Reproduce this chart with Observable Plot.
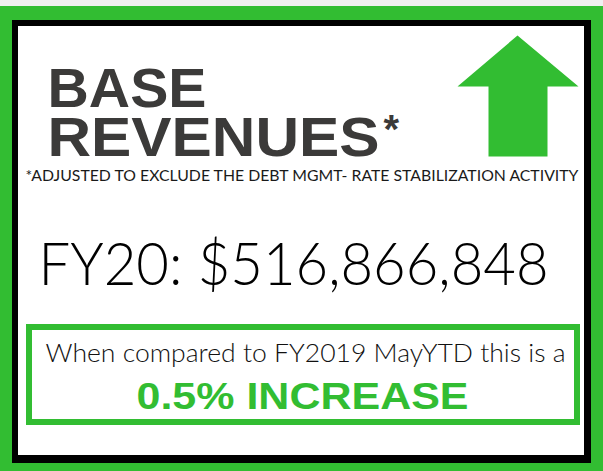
<!DOCTYPE html>
<html>
<head>
<meta charset="utf-8">
<script src="https://cdn.jsdelivr.net/npm/d3@7"></script>
<script src="https://cdn.jsdelivr.net/npm/@observablehq/plot@0.6"></script>
<style>
  html, body { margin: 0; padding: 0; background: #f0f0f0; }
  svg { display: block; }
</style>
</head>
<body>
<div id="chart"></div>
<script>
// ---- content ----
const titleLines = ["BASE", "REVENUES"];
const titleMarker = "*";
const footnote = "*ADJUSTED TO EXCLUDE THE DEBT MGMT- RATE STABILIZATION ACTIVITY";
const fiscalYear = "FY20";
const baseRevenue = 516866848;
const comparisonText = "When compared to FY2019 MayYTD this is a";
const changePct = 0.5;
const changeLabel = "INCREASE";

// ---- styling / layout (not data) ----
const W = 603, H = 471;
const GREEN = "#32bd32";
const DARK = "#3b3a39";
const boldFont = "'Liberation Sans', Arial, sans-serif";
const lightFont = "Lato, 'Noto Sans', sans-serif";

const arrowShape = [
  [517, 35], [578, 86], [547, 86], [547, 156], [488, 156], [488, 86], [457, 86], [517, 35]
].map(([x, y]) => ({x, y}));

const texts = [
  {text: titleLines[0], x: 47, y: 106, size: 55, font: boldFont, weight: "bold", fill: DARK, anchor: "start", len: 159, adj: "spacingAndGlyphs"},
  {text: titleLines[1], x: 47, y: 155, size: 55, font: boldFont, weight: "bold", fill: DARK, anchor: "start", len: 332, adj: "spacingAndGlyphs"},
  {text: titleMarker, x: 383, y: 142, size: 40, font: boldFont, weight: "bold", fill: DARK, anchor: "start", len: null, adj: null},
  {text: footnote, x: 25, y: 180, size: 16, font: lightFont, weight: 400, fill: "#1a1a1a", anchor: "start", len: 553, adj: "spacingAndGlyphs"},
  {text: `${fiscalYear}: ${d3.format("$,")(baseRevenue)}`, x: 293, y: 284, size: 59, font: lightFont, weight: 300, fill: "#000", anchor: "middle", len: 510, adj: "spacingAndGlyphs"},
  {text: comparisonText, x: 305, y: 361, size: 25, font: lightFont, weight: 300, fill: "#111", anchor: "middle", len: 520, adj: "spacingAndGlyphs"},
  {text: `${changePct}% ${changeLabel}`, x: 302, y: 408, size: 37, font: boldFont, weight: "bold", fill: GREEN, anchor: "middle", len: 332, adj: "spacingAndGlyphs"}
];

const textMarks = texts.map(t => Plot.text([t], {
  x: "x", y: "y", text: "text",
  textAnchor: t.anchor, lineAnchor: "bottom",
  fontSize: t.size, fontFamily: t.font, fontWeight: t.weight,
  fill: t.fill
}));

const chart = Plot.plot({
  width: W, height: H,
  margin: 0,
  style: {background: "#f0f0f0", overflow: "visible"},
  x: {domain: [0, W], range: [0, W], axis: null},
  y: {domain: [0, H], range: [0, H], axis: null},
  marks: [
    Plot.rect([{x1: 0, x2: W, y1: 6, y2: H}], {x1: "x1", x2: "x2", y1: "y1", y2: "y2", fill: GREEN}),
    Plot.rect([{x1: 12, x2: 591, y1: 20, y2: 463}], {x1: "x1", x2: "x2", y1: "y1", y2: "y2", fill: "#000"}),
    Plot.rect([{x1: 18, x2: 584, y1: 26, y2: 455}], {x1: "x1", x2: "x2", y1: "y1", y2: "y2", fill: "#fff"}),
    Plot.line(arrowShape, {x: "x", y: "y", fill: GREEN, stroke: "none"}),
    Plot.rect([{x1: 29, x2: 577, y1: 327, y2: 422}], {x1: "x1", x2: "x2", y1: "y1", y2: "y2", fill: "none", stroke: GREEN, strokeWidth: 6}),
    ...textMarks
  ]
});

// stretch each text line to the width measured in the reference
d3.select(chart).selectAll("text").each(function() {
  const content = this.textContent;
  const t = texts.find(d => d.text === content);
  if (t && t.len) {
    this.setAttribute("textLength", t.len);
    this.setAttribute("lengthAdjust", t.adj);
  }
});

document.getElementById("chart").appendChild(chart);
</script>
</body>
</html>
